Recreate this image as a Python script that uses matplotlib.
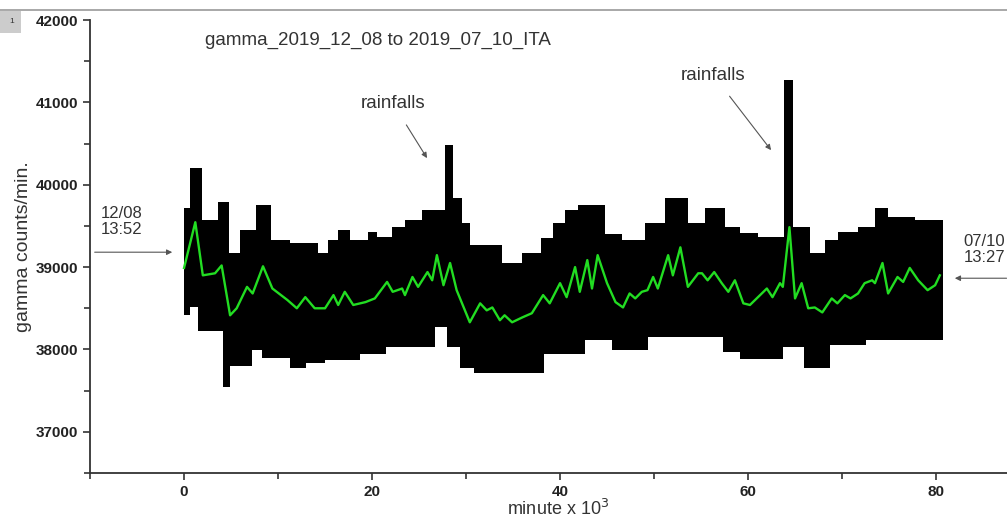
import matplotlib
matplotlib.use("Agg")
import matplotlib.pyplot as plt
from matplotlib.patches import Rectangle
from matplotlib.ticker import MultipleLocator
import numpy as np

plt.rcParams['font.family'] = ['Liberation Sans', 'DejaVu Sans']

# black band: step edges (x in 10^3 minutes) of the raw counts
upper_x = [0, 0.6, 1.9, 3.6, 4.8, 6.0, 7.7, 9.3, 11.3, 14.3, 15.3, 16.4, 17.7, 19.6,
           20.5, 22.1, 23.5, 25.3, 27.8, 28.6, 29.6, 30.4, 33.8, 36.0, 38.0, 39.2,
           40.5, 41.9, 44.8, 46.6, 49.0, 51.2, 53.6, 55.4, 57.6, 59.1, 61.1, 63.8,
           64.8, 66.6, 68.2, 69.6, 71.7, 73.5, 74.9, 77.8, 80.7]
upper_y = [39720, 40200, 39570, 39790, 39170, 39450, 39750, 39330, 39290, 39170,
           39330, 39450, 39330, 39425, 39360, 39485, 39570, 39690, 40480, 39840,
           39530, 39270, 39050, 39170, 39350, 39530, 39690, 39750, 39400, 39330,
           39530, 39840, 39530, 39720, 39485, 39410, 39360, 41270, 39485, 39170,
           39330, 39425, 39485, 39715, 39610, 39570, 39570]
lower_x = [0, 0.6, 1.5, 4.1, 4.9, 7.2, 8.3, 11.3, 13.0, 15.0, 18.7, 21.5, 26.7, 28.0,
           29.4, 30.8, 38.3, 42.7, 45.5, 49.4, 57.3, 59.1, 63.7, 65.9, 68.7, 72.6, 80.7]
lower_y = [38415, 38510, 38230, 37540, 37800, 37990, 37900, 37780, 37830, 37870,
           37950, 38030, 38270, 38030, 37780, 37710, 37950, 38110, 37990, 38150,
           37965, 37890, 38030, 37780, 38050, 38110, 38110]

# green smoothed curve
smooth_x = [0, 1.2, 2.0, 3.3, 4.0, 4.9, 5.6, 6.7, 7.3, 8.4, 9.4, 11.0, 12.0, 12.9,
            13.9, 15.0, 15.9, 16.4, 17.1, 18.0, 19.3, 20.3, 21.6, 22.2, 23.2, 23.5,
            24.3, 24.9, 25.9, 26.4, 26.9, 27.6, 28.3, 29.0, 30.4, 31.5, 32.2, 32.8,
            33.6, 34.1, 34.9, 36.0, 37.0, 38.2, 38.9, 40.0, 40.7, 41.6, 42.1, 42.9,
            43.4, 44.0, 45.0, 45.9, 46.7, 47.4, 48.0, 48.7, 49.3, 49.9, 50.4, 51.5,
            52.0, 52.8, 53.6, 54.7, 55.1, 55.7, 56.4, 57.2, 57.9, 58.6, 59.5, 60.2,
            62.0, 62.6, 63.4, 63.7, 64.4, 65.0, 65.7, 66.4, 67.1, 67.9, 68.9, 69.5,
            70.3, 70.9, 71.7, 72.4, 73.2, 73.5, 74.3, 74.9, 75.9, 76.5, 77.2, 78.1,
            79.1, 79.9, 80.4]
smooth_y = [38990, 39545, 38900, 38925, 39020, 38415, 38500, 38760, 38680, 39010,
            38740, 38600, 38500, 38635, 38500, 38500, 38660, 38540, 38700, 38540,
            38575, 38620, 38820, 38700, 38740, 38660, 38880, 38760, 38940, 38840,
            39145, 38780, 39050, 38720, 38330, 38560, 38475, 38510, 38355, 38415,
            38330, 38390, 38440, 38660, 38560, 38805, 38635, 39000, 38700, 39085,
            38740, 39145, 38805, 38575, 38510, 38680, 38620, 38700, 38720, 38880,
            38740, 39145, 38900, 39240, 38760, 38925, 38925, 38840, 38940, 38805,
            38700, 38840, 38560, 38540, 38740, 38635, 38805, 38760, 39485, 38620,
            38805, 38500, 38510, 38450, 38620, 38560, 38660, 38620, 38680, 38805,
            38840, 38805, 39050, 38680, 38880, 38820, 38990, 38840, 38720, 38780,
            38900]

fig = plt.figure(figsize=(10.07, 5.21), dpi=100)
ax = fig.add_axes([0.0894, 0.0921, 0.9335, 0.8695])

# raw counts band (merge step edges on a common grid)
grid = np.unique(np.concatenate([upper_x, lower_x]))
up = np.array(upper_y)[np.searchsorted(upper_x, grid, side='right') - 1]
lo = np.array(lower_y)[np.searchsorted(lower_x, grid, side='right') - 1]
ax.fill_between(grid, lo, up, step='post', color='black', linewidth=0)
ax.plot(smooth_x, smooth_y, color='#22dd22', lw=1.7)

ax.set_xlim(-10, 90)
ax.set_ylim(36500, 42000)
ax.xaxis.set_major_locator(MultipleLocator(20))
ax.xaxis.set_minor_locator(MultipleLocator(10))
ax.yaxis.set_major_locator(MultipleLocator(1000))
ax.yaxis.set_minor_locator(MultipleLocator(500))
for s in ['top', 'right']:
    ax.spines[s].set_visible(False)
for s in ['left', 'bottom']:
    ax.spines[s].set_linewidth(1.3)
    ax.spines[s].set_color('#333333')
ax.tick_params(which='major', length=5, width=1.2, color='#333333', labelsize=11)
ax.tick_params(which='minor', length=4, width=1.2, color='#333333')
for lab in ax.get_xticklabels() + ax.get_yticklabels():
    lab.set_fontweight('bold')
    lab.set_color('#222222')

ax.set_ylabel('gamma counts/min.', fontsize=14, color='#333333')
ax.yaxis.set_label_coords(-0.062, 0.5)
ax.set_xlabel('minute x 10$^3$', fontsize=13, color='#333333')
ax.xaxis.set_label_coords(0.498, -0.058)

txt = dict(fontsize=13.5, color='#333333')
ax.text(2.2, 41757, 'gamma_2019_12_08 to 2019_07_10_ITA', va='center', **txt)
arr = dict(arrowstyle='-|>', color='#555555', lw=0.8, mutation_scale=8)
ax.annotate('rainfalls', xy=(25.85, 40323), xytext=(22.2, 40992),
            ha='center', va='center', arrowprops=dict(arr, shrinkA=9, shrinkB=0), **txt)
ax.annotate('rainfalls', xy=(62.45, 40420), xytext=(56.3, 41332),
            ha='center', va='center', arrowprops=dict(arr, shrinkA=9, shrinkB=0), **txt)
ax.text(-8.9, 39558, '12/08\n13:52', va='center', linespacing=1.1, fontsize=12, color='#333333')
ax.annotate('', xy=(-0.96, 39181), xytext=(-9.8, 39181), arrowprops=arr, annotation_clip=False)
ax.text(82.9, 39218, '07/10\n13:27', va='center', linespacing=1.1, fontsize=12, color='#333333')
ax.annotate('', xy=(81.7, 38865), xytext=(87.8, 38865), arrowprops=arr, annotation_clip=False)

# window frame bits
fig.add_artist(plt.Line2D([0, 1], [0.981, 0.981], color='#999999', lw=1.2))
fig.patches.append(Rectangle((0, 0.937), 0.021, 0.042, transform=fig.transFigure,
                             facecolor='#cccccc', edgecolor='none'))
fig.text(0.009, 0.958, '1', fontsize=6, va='center', color='#333333')

fig.savefig('out.png', dpi=100)
